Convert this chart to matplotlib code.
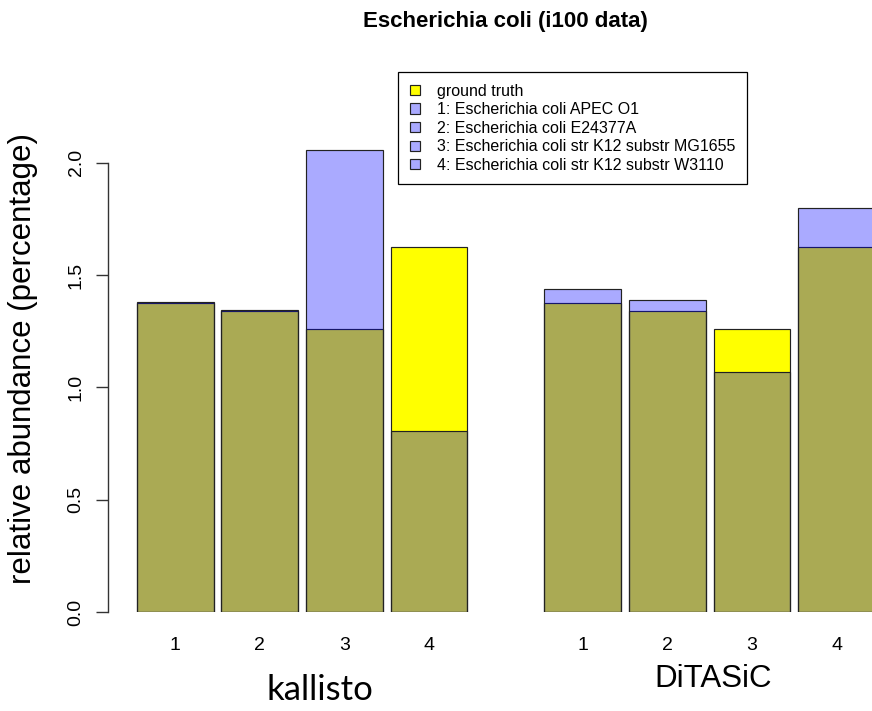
import numpy as np
import matplotlib
matplotlib.use("Agg")
import matplotlib.pyplot as plt
from matplotlib.patches import Patch

# ---- data ----
methods = ["kallisto", "DiTASiC"]
strain_ids = ["1", "2", "3", "4"]
legend_labels = [
    "ground truth",
    "1: Escherichia coli APEC O1",
    "2: Escherichia coli E24377A",
    "3: Escherichia coli str K12 substr MG1655",
    "4: Escherichia coli str K12 substr W3110",
]
ground_truth = [1.375, 1.340, 1.260, 1.624]
kallisto_est = [1.380, 1.346, 2.055, 0.807]
ditasic_est = [1.438, 1.391, 1.070, 1.800]
yticks = [0.0, 0.5, 1.0, 1.5, 2.0]
ytick_labels = ["0.0", "0.5", "1.0", "1.5", "2.0"]
title = "Escherichia coli (i100 data)"
ylabel = "relative abundance (percentage)"

plt.rcParams["font.family"] = ["Liberation Sans", "DejaVu Sans"]

W, H = 872, 711
fig = plt.figure(figsize=(W / 100, H / 100), dpi=100)

# axes geometry (pixels)
ax_left_px = 108.0
y0_px = 612.3
px_per_unit_y = 224.8
ymax = 2.2
ax = fig.add_axes([ax_left_px / W, (H - y0_px) / H, 1 - ax_left_px / W,
                   ymax * px_per_unit_y / H])

# bar positions (R barplot: width 1, space 0.1 within group, 1.0 between)
bar_w = 1.0
within = np.arange(4) * 1.1
pos_k = within
pos_d = within + 3.3 + 2.0
px_per_unit_x = 76.9
x_first_px = 175.2
xmin = (ax_left_px - x_first_px) / px_per_unit_x
xmax = (W - x_first_px) / px_per_unit_x

yellow = "#FFFF00"
blue = (0.0, 0.0, 1.0, 1 / 3)
edge = "#222222"

for pos, est in [(pos_k, kallisto_est), (pos_d, ditasic_est)]:
    ax.bar(pos, ground_truth, width=bar_w, color=yellow, edgecolor=edge,
           linewidth=0.85, zorder=2)
    ax.bar(pos, est, width=bar_w, color=blue, edgecolor=edge,
           linewidth=0.85, zorder=3)

ax.set_xlim(xmin, xmax)
ax.set_ylim(0, ymax)

for s in ["top", "right", "bottom"]:
    ax.spines[s].set_visible(False)
ax.spines["left"].set_bounds(0, 2.0)
ax.spines["left"].set_linewidth(1.0)
ax.spines["left"].set_color("#333333")

ax.set_yticks(yticks, ytick_labels)
ax.tick_params(axis="y", length=8.6, width=1.0, color="#333333",
               labelsize=14, pad=8.3)
for lab in ax.get_yticklabels():
    lab.set_rotation(90)
    lab.set_va("center")

ax.set_xticks(np.concatenate([pos_k, pos_d]), strain_ids * 2)
ax.tick_params(axis="x", length=0, labelsize=14, pad=17.5)

# legend
handles = [Patch(facecolor=yellow, edgecolor="#222222", linewidth=0.85)]
handles += [Patch(facecolor="#AAAAFF", edgecolor="#222222", linewidth=0.85)
            for _ in range(4)]
leg = ax.legend(handles, legend_labels, loc="upper left",
                bbox_to_anchor=(398.3 / W, 1 - 72.3 / H),
                bbox_transform=fig.transFigure, borderaxespad=0,
                fontsize=11.5, fancybox=False, framealpha=1,
                edgecolor="black", handlelength=0.625, handleheight=0.625,
                handletextpad=1.1, labelspacing=0.22, borderpad=0.72)
leg.get_frame().set_linewidth(0.9)

# texts
fig.text(505 / W, 1 - 22 / H, title, ha="center", va="center",
         fontsize=16, fontweight="bold")
fig.text(22.8 / W, 1 - 358 / H, ylabel, rotation=90, ha="center",
         va="center", fontsize=22.5)
fig.text(320 / W, 1 - 690 / H, methods[0], ha="center", va="center",
         fontsize=25, family=["Lato", "DejaVu Sans"])
fig.text(713 / W, 1 - 679 / H, methods[1], ha="center", va="center",
         fontsize=22.5)

fig.savefig("out.png", dpi=100)
